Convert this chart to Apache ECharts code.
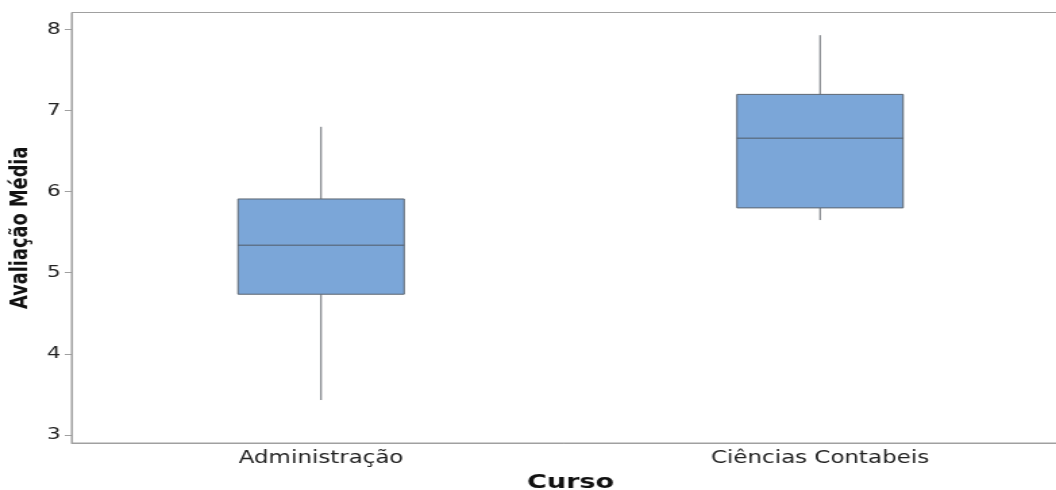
<!DOCTYPE html>
<html>
<head>
<meta charset="utf-8">
<script src="https://cdn.jsdelivr.net/npm/echarts@6/dist/echarts.min.js"></script>
<style>
  html, body { margin: 0; padding: 0; background: #fff; overflow: hidden; }
  /* the reference is drawn stretched sideways, so draw narrow and widen */
  #chart { width: 782px; height: 490px; transform: scaleX(1.3504); transform-origin: 0 0; }
</style>
</head>
<body>
<div id="chart"></div>
<script>
const categories = ['Administração', 'Ciências Contabeis']
const minVals = [3.43, 5.65]
const q1Vals = [4.735, 5.80]
const medianVals = [5.34, 6.66]
const q3Vals = [5.91, 7.20]
const maxVals = [6.80, 7.93]
const yTicks = [3, 4, 5, 6, 7, 8]

const boxRatio = 0.333
const axisGray = '#a0a0a0'

// draw box + whiskers without end caps
const renderBox = (params, api) => {
    const i = api.value(0)
    const half = api.size([1, 0])[0] * boxRatio / 2
    const pMin = api.coord([i, api.value(1)])
    const pQ1 = api.coord([i, api.value(2)])
    const pMed = api.coord([i, api.value(3)])
    const pQ3 = api.coord([i, api.value(4)])
    const pMax = api.coord([i, api.value(5)])
    const cx = pMed[0]
    const whisker = { stroke: '#666a70', lineWidth: 1 }
    return {
        type: 'group',
        children: [
            { type: 'line', shape: { x1: cx, y1: pMax[1], x2: cx, y2: pQ3[1] }, style: whisker },
            { type: 'line', shape: { x1: cx, y1: pQ1[1], x2: cx, y2: pMin[1] }, style: whisker },
            {
                type: 'rect',
                shape: { x: cx - half, y: pQ3[1], width: half * 2, height: pQ1[1] - pQ3[1] },
                style: { fill: '#7ba6d8', stroke: '#5c6570', lineWidth: 1 }
            },
            {
                type: 'line',
                shape: { x1: cx - half, y1: pMed[1], x2: cx + half, y2: pMed[1] },
                style: { stroke: '#505b68', lineWidth: 1 }
            }
        ]
    }
}

const chart = echarts.init(document.getElementById('chart'), null, { renderer: 'canvas' })
chart.setOption({
    animation: false,
    backgroundColor: '#fff',
    grid: {
        show: true,
        left: 53,
        top: 12.5,
        width: 739,
        height: 430.5,
        outerBoundsMode: 'none',
        borderColor: axisGray,
        borderWidth: 1
    },
    xAxis: {
        type: 'category',
        data: categories,
        name: 'Curso',
        nameLocation: 'middle',
        nameGap: 30,
        nameTextStyle: { fontFamily: 'DejaVu Sans', fontWeight: 'bold', fontSize: 20, color: '#111' },
        axisLine: { lineStyle: { color: axisGray } },
        axisTick: { alignWithLabel: true, length: 4, lineStyle: { color: axisGray } },
        axisLabel: { fontFamily: 'DejaVu Sans', fontSize: 17, color: '#222', margin: 7 }
    },
    yAxis: {
        type: 'value',
        min: 2.9,
        max: 8.21,
        name: 'Avaliação Média',
        nameLocation: 'middle',
        nameGap: 27,
        nameTextStyle: { fontFamily: 'DejaVu Sans', fontWeight: 'bold', fontSize: 17.8, color: '#111' },
        axisLine: { show: true, lineStyle: { color: axisGray } },
        axisTick: { show: true, length: 5, customValues: yTicks, lineStyle: { color: axisGray } },
        axisLabel: { fontFamily: 'DejaVu Sans', fontSize: 16, color: '#222', margin: 8, customValues: yTicks },
        splitLine: { show: false }
    },
    series: [{
        type: 'custom',
        renderItem: renderBox,
        encode: { x: 0, y: [1, 2, 3, 4, 5] },
        data: categories.map((c, i) => [i, minVals[i], q1Vals[i], medianVals[i], q3Vals[i], maxVals[i]])
    }]
})
</script>
</body>
</html>
